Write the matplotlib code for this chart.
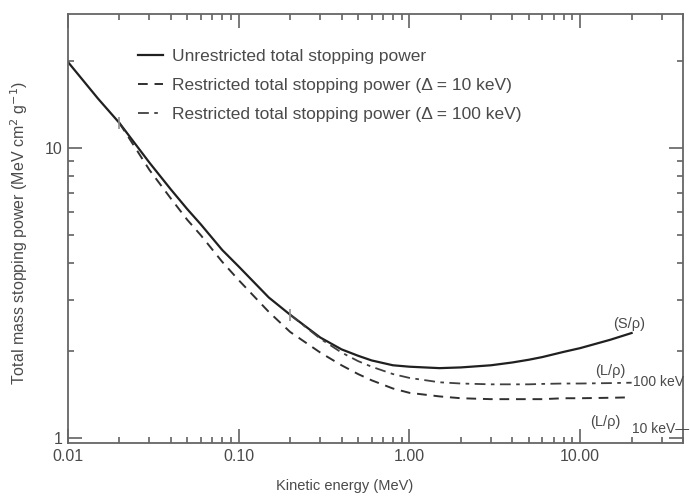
import matplotlib
matplotlib.use("Agg")
import matplotlib.pyplot as plt
from matplotlib.ticker import FixedLocator, FixedFormatter, LogLocator, NullFormatter

plt.rcParams['font.family'] = ['Liberation Sans', 'DejaVu Sans']

# energies (MeV)
energy = [0.01, 0.015, 0.02, 0.03, 0.04, 0.05, 0.06, 0.08, 0.1, 0.15, 0.2, 0.3, 0.4,
          0.5, 0.6, 0.8, 1.0, 1.5, 2, 3, 4, 5, 6, 8, 10, 15, 20]
# unrestricted total stopping power (MeV cm2 g-1)
s_total = [19.8, 14.8, 12.2, 8.9, 7.2, 6.15, 5.45, 4.45, 3.9, 3.05, 2.66, 2.22, 2.02,
           1.92, 1.85, 1.78, 1.76, 1.74, 1.75, 1.78, 1.82, 1.86, 1.9, 1.98, 2.04, 2.18, 2.3]

# restricted, delta = 10 keV (from 0.02 MeV)
energy_10 = energy[2:]
l_10kev = [12.2, 8.4, 6.7, 5.65, 5.0, 4.05, 3.5, 2.72, 2.32, 1.97, 1.78, 1.66, 1.58,
           1.48, 1.43, 1.39, 1.37, 1.36, 1.36, 1.36, 1.36, 1.37, 1.37, 1.375, 1.38]

# restricted, delta = 100 keV (from 0.2 MeV)
energy_100 = energy[10:]
l_100kev = [2.66, 2.2, 1.97, 1.84, 1.76, 1.66, 1.61, 1.555, 1.54, 1.53, 1.53, 1.53,
            1.535, 1.54, 1.54, 1.545, 1.55]

# branch points E = 2*delta
branch_e = [0.02, 0.2]
branch_s = [12.2, 2.66]

x_ticks = [0.01, 0.1, 1.0, 10.0]
x_labels = ["0.01", "0.10", "1.00", "10.00"]
y_ticks = [1, 10]
y_labels = ["1", "10"]

txt = "#4a4a4a"

fig = plt.figure(figsize=(6.9, 4.98), dpi=100)
ax = fig.add_axes([68 / 690, (498 - 443) / 498, (683 - 68) / 690, (443 - 14) / 498])

ax.plot(energy, s_total, color="#202020", lw=1.6, ls="-",
        label="Unrestricted total stopping power")
ax.plot(energy_10, l_10kev, color="#303030", lw=1.4, ls=(0, (5, 3.5)),
        label="Restricted total stopping power (\u0394 = 10 keV)")
ax.plot(energy_100, l_100kev, color="#404040", lw=1.3, ls=(0, (6, 3, 2, 3)),
        label="Restricted total stopping power (\u0394 = 100 keV)")
ax.plot(branch_e, branch_s, ls="none", marker="|", ms=9, mew=1.2, color="#909090")

ax.set_xscale("log")
ax.set_yscale("log")
ax.set_xlim(0.01, 40)
ax.set_ylim(0.96, 29)

ax.xaxis.set_major_locator(FixedLocator(x_ticks))
ax.xaxis.set_major_formatter(FixedFormatter(x_labels))
ax.xaxis.set_minor_locator(LogLocator(base=10, subs=range(2, 10)))
ax.xaxis.set_minor_formatter(NullFormatter())
ax.yaxis.set_major_locator(FixedLocator(y_ticks))
ax.yaxis.set_major_formatter(FixedFormatter(y_labels))
ax.yaxis.set_minor_locator(LogLocator(base=10, subs=range(2, 10)))
ax.yaxis.set_minor_formatter(NullFormatter())

ax.tick_params(which="both", direction="in", top=True, right=True, colors="#555555",
               labelsize=11.5, labelcolor=txt)
ax.tick_params(which="major", length=10, width=1.1, pad=4)
ax.tick_params(which="minor", length=4, width=1.1)
for sp in ax.spines.values():
    sp.set_color("#666666")
    sp.set_linewidth(1.3)

ax.set_xlabel("Kinetic energy (MeV)", fontsize=10.5, color=txt)
ax.xaxis.set_label_coords(0.45, -0.083)
ax.set_ylabel("Total mass stopping power (MeV cm$^2$ g$^{-1}$)", fontsize=11.5,
              color=txt)
ax.yaxis.set_label_coords(-0.062, 0.49)

leg = ax.legend(loc="upper left", bbox_to_anchor=(0.114, 0.918), frameon=False,
                fontsize=12.5, handlelength=1.45, handletextpad=0.5,
                labelspacing=0.8, borderpad=0, borderaxespad=0)
for t in leg.get_texts():
    t.set_color(txt)

# curve annotations at right end
ax.text(19.3, 2.48, "(S/\u03c1)", fontsize=10.5, color=txt, ha="center", va="center")
ax.text(15.0, 1.70, "(L/\u03c1)", fontsize=10.5, color=txt, ha="center", va="center")
ax.text(20.4, 1.56, "100 keV", fontsize=10, color=txt, ha="left", va="center")
ax.text(14.0, 1.135, "(L/\u03c1)", fontsize=10.5, color=txt, ha="center", va="center")
ax.text(20.0, 1.075, "10 keV\u2014", fontsize=10, color=txt, ha="left", va="center",
        clip_on=False)

fig.savefig("out.png", dpi=100)
